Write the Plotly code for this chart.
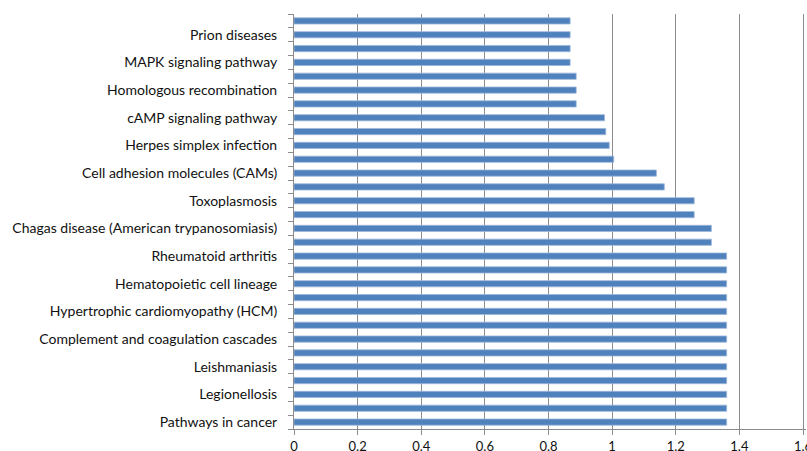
import plotly.graph_objects as go

# Bars listed from top to bottom; "" = bar without a visible label
labels = [
    "", "Prion diseases",
    "", "MAPK signaling pathway",
    "", "Homologous recombination",
    "", "cAMP signaling pathway",
    "", "Herpes simplex infection",
    "", "Cell adhesion molecules (CAMs)",
    "", "Toxoplasmosis",
    "", "Chagas disease (American trypanosomiasis)",
    "", "Rheumatoid arthritis",
    "", "Hematopoietic cell lineage",
    "", "Hypertrophic cardiomyopathy (HCM)",
    "", "Complement and coagulation cascades",
    "", "Leishmaniasis",
    "", "Legionellosis",
    "", "Pathways in cancer",
]
values = [
    0.868, 0.868, 0.868, 0.868,
    0.887, 0.887, 0.887,
    0.976, 0.980, 0.991, 1.005,
    1.139, 1.164,
    1.258, 1.258,
    1.312, 1.312,
    1.36, 1.36, 1.36, 1.36, 1.36, 1.36, 1.36,
    1.36, 1.36, 1.36, 1.36, 1.36, 1.36,
]
x_ticks = [0, 0.2, 0.4, 0.6, 0.8, 1.0, 1.2, 1.4, 1.6]
x_ticklabels = ["0", "0.2", "0.4", "0.6", "0.8", "1", "1.2", "1.4", "1.6"]

n = len(values)
ypos = list(range(n - 1, -1, -1))  # first item at top

fig = go.Figure(
    go.Bar(
        x=values,
        y=ypos,
        orientation="h",
        marker=dict(color="#4F81BD", line=dict(color="#9DB7DA", width=0.8)),
        width=0.45,
        hoverinfo="skip",
    )
)

lab_vals = [p for p, l in zip(ypos, labels) if l]
lab_text = [l for l in labels if l]

fig.update_layout(
    width=807,
    height=451,
    margin=dict(l=294, r=1, t=14, b=22, autoexpand=False),
    paper_bgcolor="white",
    plot_bgcolor="white",
    showlegend=False,
    hovermode=False,
    dragmode=False,
    font=dict(family="Lato, Open Sans, sans-serif", size=14, color="#111111"),
    bargap=0.55,
)
fig.update_xaxes(
    range=[0, 1.6094],
    tickvals=x_ticks,
    ticktext=x_ticklabels,
    showgrid=True,
    gridcolor="#8c8c8c",
    gridwidth=1,
    zeroline=False,
    showline=True,
    linecolor="#8c8c8c",
    ticks="outside",
    ticklen=5,
    tickcolor="#8c8c8c",
    automargin=False,
    ticklabeloverflow="allow",
    tickfont=dict(size=13, color="#111111"),
)
fig.update_yaxes(
    range=[-0.5, n - 0.5],
    tickvals=lab_vals,
    ticktext=lab_text,
    ticks="",
    showgrid=False,
    zeroline=False,
    showline=True,
    linecolor="#8c8c8c",
    automargin=False,
    ticklabelstandoff=13,
    minor=dict(ticks="outside", tick0=-0.5, dtick=1, ticklen=5, tickcolor="#8c8c8c", showgrid=False),
    tickfont=dict(size=14, color="#111111"),
)

fig.write_html(
    "out.html",
    config={"displayModeBar": False, "staticPlot": True},
    post_script="document.body.style.margin='0';document.documentElement.style.overflow='hidden';",
)
